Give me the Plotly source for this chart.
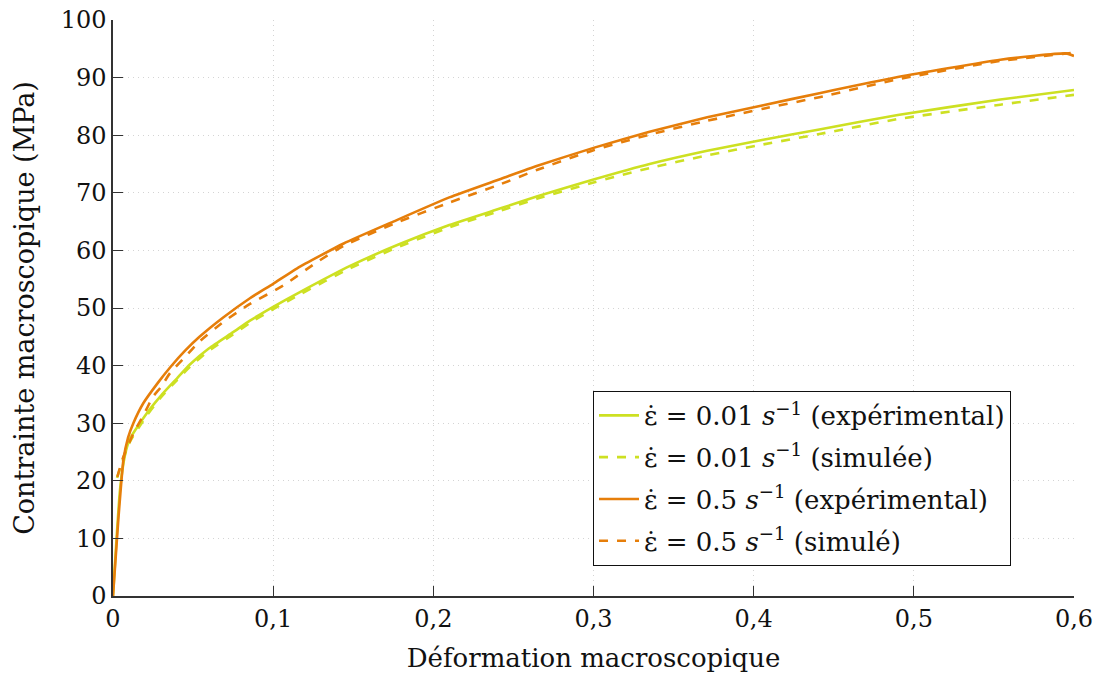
import plotly.graph_objects as go

# --- data ---
x_exp_001 = [0, 0.0044, 0.0075, 0.0106, 0.021, 0.030, 0.040, 0.048, 0.060, 0.075, 0.0855, 0.1,
             0.117, 0.148, 0.179, 0.21, 0.242, 0.265, 0.30, 0.335, 0.371, 0.406, 0.441, 0.49,
             0.554, 0.6]
y_exp_001 = [0, 18.5, 24.5, 27.3, 31.7, 34.8, 37.8, 40.2, 43.0, 45.8, 47.8, 50.2,
             52.8, 57.3, 61.1, 64.4, 67.3, 69.4, 72.3, 75.0, 77.3, 79.2, 81.0, 83.5,
             86.2, 87.85]

x_sim_001 = [0.0025, 0.006, 0.0106, 0.021, 0.030, 0.040, 0.048, 0.060, 0.075, 0.0855, 0.1,
             0.117, 0.148, 0.179, 0.21, 0.242, 0.265, 0.30, 0.335, 0.371, 0.406, 0.441, 0.49,
             0.554, 0.6]
y_sim_001 = [20.5, 23.5, 26.8, 31.3, 34.5, 37.5, 39.8, 42.6, 45.4, 47.4, 49.8,
             52.4, 56.9, 60.7, 64.0, 66.9, 69.0, 71.8, 74.3, 76.5, 78.4, 80.2, 82.8,
             85.3, 87.0]

x_exp_05 = [0, 0.0033, 0.0065, 0.0094, 0.0127, 0.019, 0.028, 0.036, 0.045, 0.054, 0.069, 0.0855,
            0.1, 0.115, 0.144, 0.175, 0.21, 0.242, 0.265, 0.30, 0.335, 0.371, 0.406, 0.441,
            0.49, 0.554, 0.595, 0.6]
y_exp_05 = [0, 13.2, 23.6, 27.5, 30.0, 33.5, 37.0, 39.8, 42.6, 45.0, 48.4, 51.7,
            54.2, 56.9, 61.2, 65.0, 69.2, 72.4, 74.7, 77.8, 80.6, 83.1, 85.2, 87.3,
            90.1, 93.1, 94.2, 93.75]

x_sim_05 = [0.0027, 0.0065, 0.0127, 0.019, 0.025, 0.030, 0.0356, 0.045, 0.054, 0.069, 0.0855,
            0.1063, 0.127, 0.144, 0.175, 0.21, 0.242, 0.265, 0.30, 0.335, 0.371, 0.406, 0.441,
            0.49, 0.554, 0.6]
y_sim_05 = [20.7, 24.2, 28.2, 31.4, 34.6, 36.3, 38.7, 41.5, 44.2, 47.6, 50.7,
            53.9, 57.9, 60.8, 64.6, 68.3, 71.5, 74.0, 77.4, 80.1, 82.5, 84.6, 86.6,
            89.7, 92.9, 94.3]

x_ticks = [0, 0.1, 0.2, 0.3, 0.4, 0.5, 0.6]
x_tick_labels = ["0", "0,1", "0,2", "0,3", "0,4", "0,5", "0,6"]
y_ticks = [0, 10, 20, 30, 40, 50, 60, 70, 80, 90, 100]

names = [
    "ε̇ = 0.01 <i>s</i><sup>−1</sup> (expérimental)",
    "ε̇ = 0.01 <i>s</i><sup>−1</sup> (simulée)",
    "ε̇ = 0.5 <i>s</i><sup>−1</sup> (expérimental)",
    "ε̇ = 0.5 <i>s</i><sup>−1</sup> (simulé)",
]

GREEN = "#cde022"
ORANGE = "#e67e0a"
FONT = "DejaVu Serif"

fig = go.Figure()
series = [
    (x_exp_001, y_exp_001, GREEN, "solid"),
    (x_sim_001, y_sim_001, GREEN, "dash"),
    (x_exp_05, y_exp_05, ORANGE, "solid"),
    (x_sim_05, y_sim_05, ORANGE, "dash"),
]
for i, (xs, ys, c, d) in enumerate(series):
    fig.add_trace(go.Scatter(x=xs, y=ys, mode="lines", name=names[i],
                             line=dict(color=c, width=2.6, dash=d, shape="spline", smoothing=0.5),
                             legendgroup=f"g{i}"))

axis_common = dict(
    showline=True, linecolor="#333333", linewidth=1.5,
    ticks="inside", ticklen=10, tickcolor="#333333", tickwidth=1.3,
    showgrid=True, gridcolor="#d4d4d4", griddash="1px,4px", gridwidth=1,
    zeroline=False, mirror=False, automargin=False,
    tickfont=dict(family=FONT, size=24, color="#111111"),
)

fig.update_layout(
    width=1098, height=679,
    paper_bgcolor="white", plot_bgcolor="white",
    margin=dict(l=113, r=24, t=20, b=83),
    font=dict(family=FONT, size=24, color="#111111"),
    xaxis=dict(range=[0, 0.6], tickvals=x_ticks, ticktext=x_tick_labels,
               title=dict(text="Déformation macroscopique", font=dict(family=FONT, size=26), standoff=17),
               **axis_common),
    yaxis=dict(range=[0, 100], tickvals=y_ticks,
               title=dict(text="Contrainte macroscopique (MPa)", font=dict(family=FONT, size=27), standoff=18),
               **axis_common),
    legend=dict(x=0.4995, y=0.356, xanchor="left", yanchor="top",
                bgcolor="white", bordercolor="#111111", borderwidth=1,
                font=dict(family=FONT, size=26), tracegroupgap=5,
                itemwidth=40),
    showlegend=True,
)

fig.write_html("out.html", config={"displayModeBar": False},
               post_script="document.body.style.margin='0';document.body.style.overflow='hidden';")
